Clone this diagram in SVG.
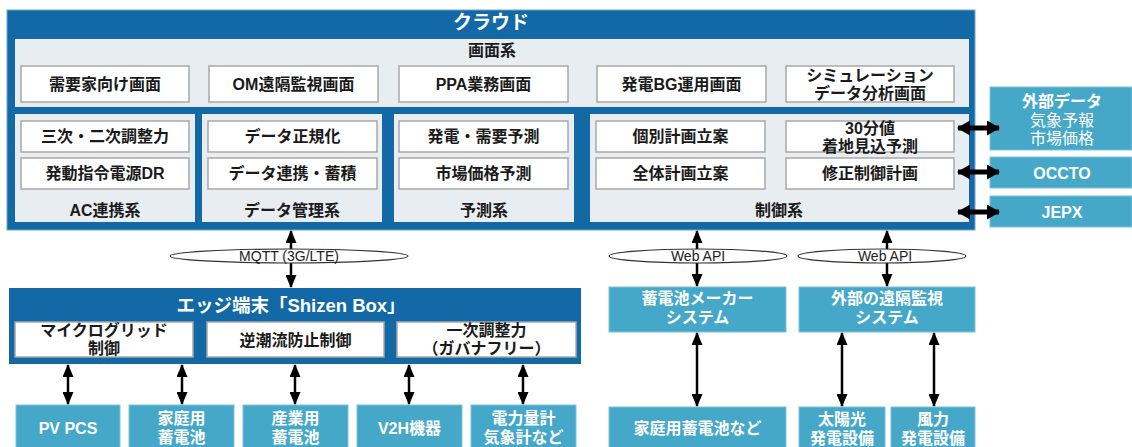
<svg xmlns="http://www.w3.org/2000/svg" width="1132" height="447" viewBox="0 0 1132 447">
<style>
text{font-family:"Liberation Sans","Noto Sans CJK JP",sans-serif;text-anchor:middle;dominant-baseline:central}
.dark{fill:#1369A6}
.panel{fill:#E7EDF1}
.btn{fill:#FFFFFF;stroke:#A8A8A8;stroke-width:1.5}
.lb{fill:#45A8C9;stroke:#7CC3DC;stroke-width:1}
.bt{font-size:16px;font-weight:700;fill:#1A1A1A}
.wt{font-size:16px;font-weight:700;fill:#FFFFFF}
.wr{font-size:16px;font-weight:400;fill:#FFFFFF}
.title{font-size:19px;font-weight:700;fill:#FFFFFF}
.proto{font-size:14px;fill:#222222}
.ell{fill:#FFFFFF;stroke:#333333;stroke-width:1.2}
.arr{stroke:#000000;stroke-width:2.5;fill:none;marker-start:url(#ah);marker-end:url(#ah)}
.arr2{stroke:#000000;stroke-width:5;fill:none;marker-start:url(#ah2);marker-end:url(#ah2)}
</style>
<defs>
<marker id="ah" viewBox="0 0 13 11" markerUnits="userSpaceOnUse" markerWidth="13" markerHeight="11" refX="12" refY="5.5" orient="auto-start-reverse">
<path d="M0,0 L13,5.5 L0,11 z" fill="#000000"/>
</marker>
<marker id="ah2" viewBox="0 0 13 15" markerUnits="userSpaceOnUse" markerWidth="13" markerHeight="15" refX="12" refY="7.5" orient="auto-start-reverse">
<path d="M0,0 L13,7.5 L0,15 z" fill="#000000"/>
</marker>
</defs>
<rect x="0" y="0" width="1132" height="447" fill="#FFFFFF"/>

<g id="cloud">
<rect x="7" y="10" width="968" height="220" class="dark" stroke="#6FA6CF" stroke-width="1"/>
<text x="491" y="22" class="title">クラウド</text>
</g>

<g id="screens">
<rect x="15" y="39" width="954" height="68" class="panel"/>
<text x="492" y="50" class="bt">画面系</text>
</g>
<g id="scr1"><rect x="21" y="66" width="168" height="36" class="btn"/><text x="105" y="84" class="bt">需要家向け画面</text></g>
<g id="scr2"><rect x="209" y="66" width="169" height="36" class="btn"/><text x="293.5" y="84" class="bt">OM遠隔監視画面</text></g>
<g id="scr3"><rect x="399" y="66" width="169" height="36" class="btn"/><text x="483.5" y="84" class="bt">PPA業務画面</text></g>
<g id="scr4"><rect x="597" y="66" width="169" height="36" class="btn"/><text x="681.5" y="84" class="bt">発電BG運用画面</text></g>
<g id="scr5"><rect x="786" y="66" width="168" height="36" class="btn"/><text x="870" y="75" class="bt">シミュレーション</text><text x="870" y="93" class="bt">データ分析画面</text></g>

<g id="ac">
<rect x="15" y="114" width="180" height="108" class="panel"/>
<text x="105" y="210" class="bt">AC連携系</text>
</g>
<g id="ac1"><rect x="21" y="121" width="168" height="31" class="btn"/><text x="105" y="136.5" class="bt">三次・二次調整力</text></g>
<g id="ac2"><rect x="21" y="158" width="168" height="31" class="btn"/><text x="105" y="173.5" class="bt">発動指令電源DR</text></g>

<g id="data">
<rect x="202" y="114" width="180" height="108" class="panel"/>
<text x="292" y="210" class="bt">データ管理系</text>
</g>
<g id="data1"><rect x="208" y="121" width="169" height="31" class="btn"/><text x="292.5" y="136.5" class="bt">データ正規化</text></g>
<g id="data2"><rect x="208" y="158" width="169" height="31" class="btn"/><text x="292.5" y="173.5" class="bt">データ連携・蓄積</text></g>

<g id="forecast">
<rect x="394" y="114" width="180" height="108" class="panel"/>
<text x="484" y="210" class="bt">予測系</text>
</g>
<g id="fc1"><rect x="399" y="121" width="169" height="31" class="btn"/><text x="483.5" y="136.5" class="bt">発電・需要予測</text></g>
<g id="fc2"><rect x="399" y="158" width="169" height="31" class="btn"/><text x="483.5" y="173.5" class="bt">市場価格予測</text></g>

<g id="control">
<rect x="590" y="114" width="379" height="108" class="panel"/>
<text x="779" y="210" class="bt">制御系</text>
</g>
<g id="ct1"><rect x="596" y="121" width="169" height="31" class="btn"/><text x="680.5" y="136.5" class="bt">個別計画立案</text></g>
<g id="ct2"><rect x="596" y="158" width="169" height="31" class="btn"/><text x="680.5" y="173.5" class="bt">全体計画立案</text></g>
<g id="ct3"><rect x="786" y="121" width="168" height="31" class="btn"/><text x="870" y="128" class="bt">30分値</text><text x="870" y="146" class="bt">着地見込予測</text></g>
<g id="ct4"><rect x="786" y="158" width="168" height="31" class="btn"/><text x="870" y="173.5" class="bt">修正制御計画</text></g>

<g id="ext-data"><rect x="990" y="87" width="142" height="63" class="lb"/><text x="1062" y="101" class="wt">外部データ</text><text x="1062" y="120" class="wr">気象予報</text><text x="1062" y="138" class="wr">市場価格</text></g>
<g id="occto"><rect x="990" y="157" width="142" height="31" class="lb"/><text x="1062" y="173" class="wt">OCCTO</text></g>
<g id="jepx"><rect x="990" y="196" width="142" height="31" class="lb"/><text x="1062" y="212" class="wt">JEPX</text></g>

<g id="edge">
<rect x="9" y="288" width="572" height="76" class="dark"/>
<text x="291" y="305" class="title" style="font-size:18.5px">エッジ端末「Shizen Box」</text>
</g>
<g id="edge1"><rect x="15" y="322" width="178" height="35" class="btn"/><text x="104" y="330" class="bt">マイクログリッド</text><text x="104" y="348" class="bt">制御</text></g>
<g id="edge2"><rect x="207" y="322" width="177" height="35" class="btn"/><text x="295.5" y="340" class="bt">逆潮流防止制御</text></g>
<g id="edge3"><rect x="397" y="322" width="179" height="35" class="btn"/><text x="486.5" y="330" class="bt">一次調整力</text><text x="486.5" y="348" class="bt">（ガバナフリー）</text></g>

<g id="dev1"><rect x="16" y="405" width="104" height="46" class="lb"/><text x="68" y="428" class="wt">PV PCS</text></g>
<g id="dev2"><rect x="129" y="405" width="105" height="46" class="lb"/><text x="181.5" y="418" class="wt">家庭用</text><text x="181.5" y="437" class="wt">蓄電池</text></g>
<g id="dev3"><rect x="243" y="405" width="105" height="46" class="lb"/><text x="295.5" y="418" class="wt">産業用</text><text x="295.5" y="437" class="wt">蓄電池</text></g>
<g id="dev4"><rect x="357" y="405" width="105" height="46" class="lb"/><text x="409.5" y="428" class="wt">V2H機器</text></g>
<g id="dev5"><rect x="471" y="405" width="105" height="46" class="lb"/><text x="523.5" y="418" class="wt">電力量計</text><text x="523.5" y="437" class="wt">気象計など</text></g>

<g id="bat-maker"><rect x="609" y="287" width="177" height="45" class="lb"/><text x="697.5" y="298" class="wt">蓄電池メーカー</text><text x="697.5" y="317" class="wt">システム</text></g>
<g id="remote"><rect x="799" y="287" width="176" height="45" class="lb"/><text x="887" y="298" class="wt">外部の遠隔監視</text><text x="887" y="317" class="wt">システム</text></g>
<g id="home-bat"><rect x="609" y="407" width="177" height="44" class="lb"/><text x="697.5" y="428" class="wt">家庭用蓄電池など</text></g>
<g id="solar"><rect x="799" y="407" width="86" height="44" class="lb"/><text x="842" y="419" class="wt">太陽光</text><text x="842" y="438" class="wt">発電設備</text></g>
<g id="wind"><rect x="891" y="407" width="84" height="44" class="lb"/><text x="933" y="419" class="wt">風力</text><text x="933" y="438" class="wt">発電設備</text></g>

<g id="connectors">
<line x1="958" y1="128" x2="999" y2="128" class="arr2"/>
<line x1="958" y1="172" x2="999" y2="172" class="arr2"/>
<line x1="958" y1="212" x2="999" y2="212" class="arr2"/>
<line x1="291" y1="231" x2="291" y2="287" class="arr"/>
<line x1="697" y1="231" x2="697" y2="286" class="arr"/>
<line x1="887" y1="231" x2="887" y2="286" class="arr"/>
<ellipse cx="289" cy="256" rx="119" ry="7" class="ell"/>
<text x="289" y="256" class="proto">MQTT (3G/LTE)</text>
<ellipse cx="698" cy="256" rx="89" ry="7" class="ell"/>
<text x="698" y="256" class="proto">Web API</text>
<ellipse cx="882" cy="256" rx="84" ry="7" class="ell"/>
<text x="885" y="256" class="proto">Web API</text>
<line x1="68" y1="365" x2="68" y2="404" class="arr"/>
<line x1="182" y1="365" x2="182" y2="404" class="arr"/>
<line x1="295" y1="365" x2="295" y2="404" class="arr"/>
<line x1="409" y1="365" x2="409" y2="404" class="arr"/>
<line x1="523" y1="365" x2="523" y2="404" class="arr"/>
<line x1="697" y1="333" x2="697" y2="406" class="arr"/>
<line x1="842" y1="333" x2="842" y2="406" class="arr"/>
<line x1="934" y1="333" x2="934" y2="406" class="arr"/>
</g>
</svg>
